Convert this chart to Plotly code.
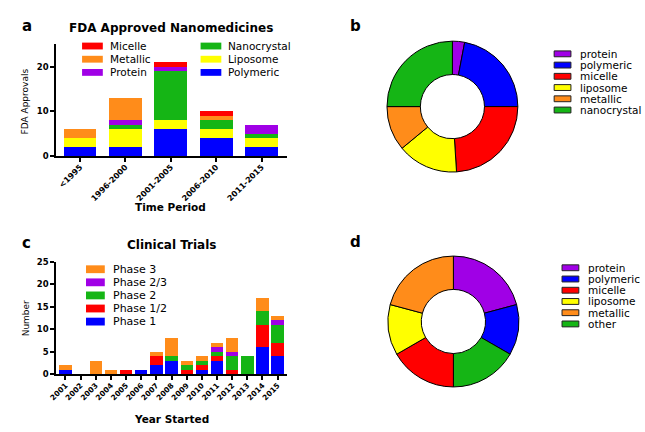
import plotly.graph_objects as go

W, H = 645, 432

# ---------------- Panel a: FDA approved nanomedicines ----------------
periods = ["<1995", "1996-2000", "2001-2005", "2006-2010", "2011-2015"]
polymeric = [2, 2, 6, 4, 2]
liposome = [2, 4, 2, 2, 2]
nanocrystal = [0, 1, 11, 2, 1]
protein = [0, 1, 1, 0, 2]
metallic = [2, 5, 0, 1, 0]
micelle = [0, 0, 1, 1, 0]

# ---------------- Panel c: clinical trials ----------------
years = ["2001", "2002", "2003", "2004", "2005", "2006", "2007", "2008",
         "2009", "2010", "2011", "2012", "2013", "2014", "2015"]
phase1 = [1, 0, 0, 0, 0, 1, 2, 3, 0, 1, 3, 0, 0, 6, 4]
phase1_2 = [0, 0, 0, 0, 1, 0, 2, 0, 1, 1, 1, 1, 0, 5, 3]
phase2 = [0, 0, 0, 0, 0, 0, 0, 1, 1, 1, 1, 3, 4, 3, 4]
phase2_3 = [0, 0, 0, 0, 0, 0, 0, 0, 0, 0, 1, 1, 0, 0, 1]
phase3 = [1, 0, 3, 1, 0, 0, 1, 4, 1, 1, 1, 3, 0, 3, 1]

# ---------------- Panel b: donut ----------------
b_labels = ["protein", "polymeric", "micelle", "liposome", "metallic", "nanocrystal"]
b_values = [3, 22, 24, 15, 11, 25]

# ---------------- Panel d: donut ----------------
d_labels = ["protein", "polymeric", "other", "micelle", "liposome", "metallic"]
d_values = [5, 3, 4, 4, 3, 5]
d_legend = ["protein", "polymeric", "micelle", "liposome", "metallic", "other"]

BLUE = "#0000FF"
YELLOW = "#FFFF00"
GREEN = "#15B515"
PURPLE = "#A000E6"
ORANGE = "#FF8C1A"
RED = "#FF0000"

cat_color = {"protein": PURPLE, "polymeric": BLUE, "micelle": RED,
             "liposome": YELLOW, "metallic": ORANGE, "nanocrystal": GREEN,
             "other": GREEN}

FONT = "DejaVu Sans"


def X(px):
    return px / W


def Y(py):
    return 1 - py / H


fig = go.Figure()

# Panel a bars (stack bottom -> top)
a_series = [("Polymeric", polymeric, BLUE), ("Liposome", liposome, YELLOW),
            ("Nanocrystal", nanocrystal, GREEN), ("Protein", protein, PURPLE),
            ("Metallic", metallic, ORANGE), ("Micelle", micelle, RED)]
for name, vals, col in a_series:
    fig.add_trace(go.Bar(x=periods, y=vals, name=name, marker_color=col,
                         marker_line_width=0, width=0.72,
                         xaxis="x", yaxis="y", showlegend=False))

# Panel c bars
c_series = [("Phase 1", phase1, BLUE), ("Phase 1/2", phase1_2, RED),
            ("Phase 2", phase2, GREEN), ("Phase 2/3", phase2_3, PURPLE),
            ("Phase 3", phase3, ORANGE)]
for name, vals, col in c_series:
    fig.add_trace(go.Bar(x=years, y=vals, name=name, marker_color=col,
                         marker_line_width=0, width=0.82,
                         xaxis="x2", yaxis="y2", showlegend=False))

# Donuts
D = 134


def pie_domain(cx, cy):
    return dict(x=[X(cx - D / 2), X(cx + D / 2)], y=[Y(cy + D / 2), Y(cy - D / 2)])


fig.add_trace(go.Pie(labels=b_labels, values=b_values, hole=0.49, sort=False,
                     direction="clockwise", rotation=0, textinfo="none",
                     marker=dict(colors=[cat_color[l] for l in b_labels],
                                 line=dict(color="black", width=1)),
                     domain=pie_domain(450, 104), showlegend=False))
fig.add_trace(go.Pie(labels=d_labels, values=d_values, hole=0.49, sort=False,
                     direction="clockwise", rotation=0, textinfo="none",
                     marker=dict(colors=[cat_color[l] for l in d_labels],
                                 line=dict(color="black", width=1)),
                     domain=pie_domain(451, 324), showlegend=False))

axis_common = dict(showline=True, linecolor="black", linewidth=2,
                   ticks="outside", ticklen=4, tickwidth=1.5, tickcolor="black",
                   showgrid=False, zeroline=False, fixedrange=True)

fig.update_layout(
    width=W, height=H, margin=dict(l=0, r=0, t=0, b=0),
    paper_bgcolor="white", plot_bgcolor="white",
    barmode="stack", showlegend=False,
    font=dict(family=FONT, color="black"),
    xaxis=dict(domain=[X(49), X(283)], anchor="y", type="category",
               range=[-0.52, 4.57], tickangle=-45, ticklabelstandoff=-3,
               tickfont=dict(family=FONT, size=8, weight="bold"), **axis_common),
    yaxis=dict(domain=[Y(155), Y(40)], anchor="x", range=[0, 25], dtick=10,
               tickfont=dict(family=FONT, size=8.5, weight="bold"), **axis_common),
    xaxis2=dict(domain=[X(49), X(283)], anchor="y2", type="category",
                range=[-0.6, 14.65], tickangle=-45, ticklabelstandoff=-2,
                tickfont=dict(family=FONT, size=7.5, weight="bold"), **axis_common),
    yaxis2=dict(domain=[Y(378), Y(263)], anchor="x2", range=[0, 25], dtick=5,
                tickfont=dict(family=FONT, size=8.5, weight="bold"), **axis_common),
)

ann = []
shapes = []


def text(x, y, s, size, bold=False, anchor="center", angle=0):
    ann.append(dict(x=X(x), y=Y(y), xref="paper", yref="paper", text=s,
                    showarrow=False, xanchor=anchor, yanchor="middle",
                    textangle=angle,
                    font=dict(family=FONT, size=size, color="black",
                              weight="bold" if bold else "normal")))


# panel letters
for lx, ly, s in [(19, 22, "a"), (352, 21, "b"), (19, 244, "c"), (352, 243, "d")]:
    text(lx, ly, s, 15, bold=True)

# titles & axis titles
text(165, 24, "FDA Approved Nanomedicines", 12, bold=True)
text(166, 246, "Clinical Trials", 12, bold=True)
text(165, 207, "Time Period", 10.5, bold=True)
text(166, 424, "Year Started", 10.5, bold=True)
text(17, 99, "FDA Approvals", 9, angle=-90)
text(18, 321, "Number", 9, angle=-90)

# legend a (two columns, reversed stack order)
a_legend = ["Micelle", "Nanocrystal", "Metallic", "Liposome", "Protein", "Polymeric"]
a_col = {n: c for n, _, c in a_series}
for i, name in enumerate(a_legend):
    col, row = i % 2, i // 2
    x0 = [75, 195][col]
    yc = 42 + row * 13.5
    shapes.append(dict(type="rect", xref="paper", yref="paper",
                       x0=X(x0), x1=X(x0 + 21), y0=Y(yc + 3.5), y1=Y(yc - 3.5),
                       fillcolor=a_col[name], line=dict(width=0)))
    text(x0 + 26, yc, name, 10.5, anchor="left")

# legend c
c_legend = [n for n, _, _ in c_series][::-1]
c_col = {n: c for n, _, c in c_series}
for i, name in enumerate(c_legend):
    yc = 270.5 + i * 13.4
    shapes.append(dict(type="rect", xref="paper", yref="paper",
                       x0=X(79), x1=X(98), y0=Y(yc + 4), y1=Y(yc - 4),
                       fillcolor=c_col[name], line=dict(width=0)))
    text(104, yc, name, 11, anchor="left")


# donut legends
def donut_legend(names, sx, ty):
    for i, name in enumerate(names):
        yc = ty + i * 11.5
        shapes.append(dict(type="rect", xref="paper", yref="paper",
                           x0=X(sx), x1=X(sx + 17), y0=Y(yc + 3), y1=Y(yc - 3),
                           fillcolor=cat_color[name],
                           line=dict(color="#222222", width=1)))
        text(sx + 24, yc, name, 10.5, anchor="left")


donut_legend(b_labels, 553, 50)
donut_legend(d_legend, 561, 269)

# arrow in panel c
ann.append(dict(x=years[6], y=2.3, xref="x2", yref="y2", showarrow=True,
                ax=-16, ay=-27, arrowhead=2, arrowsize=1, arrowwidth=2,
                arrowcolor="black", text=""))

fig.update_layout(annotations=ann, shapes=shapes)
fig.write_html("out.html", config={"displayModeBar": False},
               post_script="document.body.style.margin='0';"
                           "document.body.style.overflow='hidden';")
